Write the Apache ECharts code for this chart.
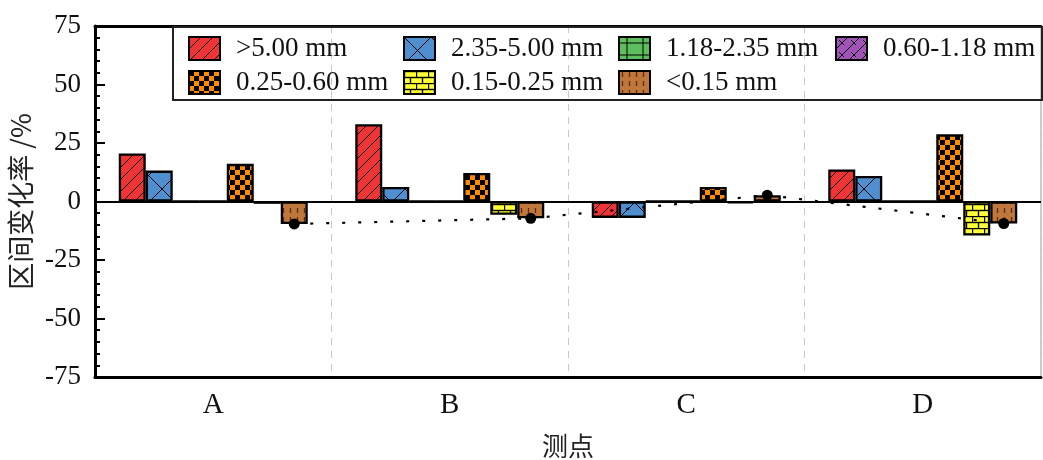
<!DOCTYPE html>
<html>
<head>
<meta charset="utf-8">
<script src="https://cdn.jsdelivr.net/npm/echarts@6/dist/echarts.min.js"></script>
<style>
  html, body { margin: 0; padding: 0; background: #fff; }
  #chart { width: 1043px; height: 460px; }
</style>
</head>
<body>
<div id="chart"></div>
<script>
// Measuring points and particle-size classes
const categories = ['A', 'B', 'C', 'D'];
const sizeClasses = ['>5.00 mm', '2.35-5.00 mm', '1.18-2.35 mm', '0.60-1.18 mm',
                     '0.25-0.60 mm', '0.15-0.25 mm', '<0.15 mm'];

// Interval change rate (%) of each size class at each point
const over500   = [20.5, 33.0, -7.0, 13.7];
const r235_500  = [13.2, 6.2, -7.0, 10.9];
const r118_235  = [0, 0, 0, 0];
const r060_118  = [0, 0, 0, 0];
const r025_060  = [16.1, 12.2, 6.2, 28.7];
const r015_025  = [-1.0, -5.7, -0.7, -14.5];
const under015  = [-9.6, -7.2, 2.7, -9.4];

const yTicks = [-75, -50, -25, 0, 25, 50, 75];

const seriesValues = [over500, r235_500, r118_235, r060_118, r025_060, r015_025, under015];

// ---- fill textures ----
function tile(w, h, bg, draw) {
  const c = document.createElement('canvas');
  c.width = w; c.height = h;
  const g = c.getContext('2d');
  g.fillStyle = bg; g.fillRect(0, 0, w, h);
  g.strokeStyle = '#000'; g.fillStyle = '#000'; g.lineWidth = 1;
  draw(g, w, h);
  return { image: c, repeat: 'repeat' };
}
function seg(g, x1, y1, x2, y2) { g.beginPath(); g.moveTo(x1, y1); g.lineTo(x2, y2); g.stroke(); }

const fills = [
  tile(12, 12, '#ee3434', (g, w, h) => {
    seg(g, -w, 2 * h, 2 * w, -h); seg(g, 0, 2 * h, 2 * w, 0); seg(g, -w, h, w, -h);
  }),
  tile(27, 27, '#4f8fcf', (g, w, h) => { seg(g, 0, 0, w, h); seg(g, w, 0, 0, h); }),
  tile(16, 12, '#5dbe5d', (g, w, h) => { seg(g, w / 2, 0, w / 2, h); seg(g, 0, h / 2, w, h / 2); }),
  tile(12, 12, '#a352b9', (g, w, h) => {
    seg(g, 0, h, w, 0); seg(g, -w / 2, h / 2, w / 2, -h / 2); seg(g, w / 2, 1.5 * h, 1.5 * w, h / 2);
    seg(g, 3, 3, 8, 8);
  }),
  tile(10, 10, '#ff8c00', (g, w, h) => { g.fillRect(0, 0, 5, 5); g.fillRect(5, 5, 5, 5); }),
  tile(12, 12, '#ffff33', (g, w, h) => {
    g.lineWidth = 1.4;
    seg(g, 0, 0.5, w, 0.5); seg(g, 0, 6.5, w, 6.5);
    seg(g, 0.5, 0, 0.5, 6.5); seg(g, 6.5, 6.5, 6.5, h);
  }),
  tile(7, 9, '#c0773b', (g, w, h) => {
    g.strokeStyle = '#5a2c0e'; g.lineWidth = 1.3; seg(g, 3.5, 1, 3.5, 6);
  })
];

const BAR_W = 27;
const FONT = 'Liberation Serif';

const barSeries = sizeClasses.map((name, i) => ({
  name: name,
  type: 'bar',
  data: seriesValues[i],
  barWidth: BAR_W,
  barGap: '0%',
  itemStyle: { color: fills[i], borderColor: '#000', borderWidth: 2.3 },
  emphasis: { disabled: true },
  animation: false,
  z: 2
}));

// zero reference line
barSeries[0].markLine = {
  silent: true, symbol: 'none', animation: false,
  label: { show: false },
  lineStyle: { color: '#000', width: 2, type: 'solid' },
  data: [{ yAxis: 0 }]
};

// dotted trend through the finest class, placed on that class's bar
const trendSeries = {
  type: 'custom',
  data: under015.map((v, i) => [i, v]),
  z: 10,
  animation: false,
  renderItem: function (params, api) {
    const i = api.value(0);
    const off = 3 * BAR_W;
    const p = api.coord([i, api.value(1)]);
    const children = [];
    if (i < under015.length - 1) {
      const q = api.coord([i + 1, under015[i + 1]]);
      children.push({
        type: 'line',
        shape: { x1: p[0] + off, y1: p[1], x2: q[0] + off, y2: q[1] },
        style: { stroke: '#000', lineWidth: 2.2, lineDash: [3, 13] }
      });
    }
    children.push({
      type: 'circle',
      shape: { cx: p[0] + off, cy: p[1], r: 5.5 },
      style: { fill: '#000' }
    });
    return { type: 'group', children: children };
  }
};

// legend: four columns, two rows
const legendPos = [[188, 35], [403, 35], [618, 35], [835, 35], [188, 69], [403, 69], [618, 69]];
const legends = sizeClasses.map((name, i) => ({
  data: [name],
  left: legendPos[i][0],
  top: legendPos[i][1],
  itemWidth: 31,
  itemHeight: 23,
  icon: 'rect',
  selectedMode: false,
  padding: 0,
  textStyle: { fontFamily: FONT, fontSize: 27, color: '#111', padding: [0, 0, 0, 11] }
}));

const chart = echarts.init(document.getElementById('chart'), null, { renderer: 'canvas' });
chart.setOption({
  animation: false,
  backgroundColor: '#fff',
  grid: {
    left: 95, right: 2, top: 26, bottom: 83,
    outerBoundsMode: 'none',
    containLabel: false,
    show: true, borderColor: '#9a9a9a', borderWidth: 1, backgroundColor: 'transparent'
  },
  legend: legends,
  graphic: [{
    type: 'rect',
    left: 172, top: 26, z: 100,
    shape: { width: 869, height: 73 },
    style: { fill: 'transparent', stroke: '#222', lineWidth: 2 }
  }],
  xAxis: [{
    type: 'category',
    data: categories,
    position: 'bottom',
    axisLine: { onZero: false, lineStyle: { color: '#000', width: 3 } },
    axisTick: { show: false },
    axisLabel: { fontFamily: FONT, fontSize: 29, color: '#111', margin: 14 },
    splitLine: { show: true, interval: 0, lineStyle: { color: '#c8c8c8', width: 1, type: [7, 6] } },
    name: '测点',
    nameLocation: 'middle',
    nameGap: 56,
    nameTextStyle: { fontFamily: 'Noto Sans CJK SC', fontSize: 26, color: '#222' }
  }, {
    type: 'category',
    data: categories,
    position: 'top',
    axisLine: { onZero: false, lineStyle: { color: '#000', width: 3 } },
    axisTick: { show: false },
    axisLabel: { show: false },
    splitLine: { show: false }
  }],
  yAxis: {
    type: 'value',
    min: yTicks[0],
    max: yTicks[yTicks.length - 1],
    interval: 25,
    axisLine: { show: true, onZero: false, lineStyle: { color: '#000', width: 3 } },
    axisTick: { show: true, inside: true, length: 10, lineStyle: { color: '#000', width: 2 } },
    minorTick: { show: true, splitNumber: 5, length: 5, lineStyle: { color: '#000', width: 2 } },
    splitLine: { show: false },
    axisLabel: { fontFamily: FONT, fontSize: 27, color: '#111', margin: 14 },
    name: '区间变化率 /%',
    nameLocation: 'middle',
    nameGap: 56,
    nameTextStyle: { fontFamily: 'Noto Sans CJK SC', fontSize: 27, color: '#222' }
  },
  series: barSeries.concat([trendSeries])
});
</script>
</body>
</html>
